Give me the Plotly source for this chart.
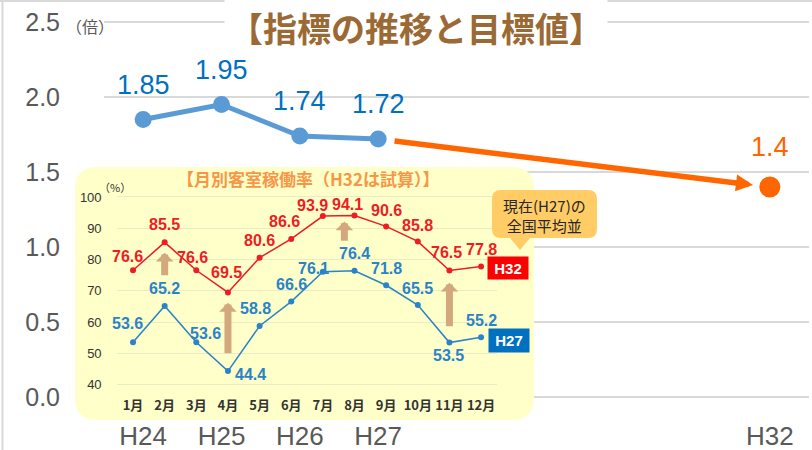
import plotly.graph_objects as go

# ---- data -------------------------------------------------------------
years = ["H24", "H25", "H26", "H27", "H32"]
year_pos = [0, 1, 2, 3, 8]
ratio_actual = [1.85, 1.95, 1.74, 1.72]      # H24..H27
ratio_target = 1.4                           # H32 target
y_ticks = [0.0, 0.5, 1.0, 1.5, 2.0, 2.5]

months = ["1月", "2月", "3月", "4月", "5月", "6月",
          "7月", "8月", "9月", "10月", "11月", "12月"]
occ_h32 = [76.6, 85.5, 76.6, 69.5, 80.6, 86.6, 93.9, 94.1, 90.6, 85.8, 76.5, 77.8]
occ_h27 = [53.6, 65.2, 53.6, 44.4, 58.8, 66.6, 76.1, 76.4, 71.8, 65.5, 53.5, 55.2]
occ_ticks = [40, 50, 60, 70, 80, 90, 100]

# ---- styling ----------------------------------------------------------
W, H = 812, 450
NUM = "Liberation Sans, Arial, sans-serif"
JP = "Noto Sans CJK JP, Noto Sans, sans-serif"
GRAY = "#595959"
BLUE_LINE = "#5B9BD5"
BLUE_TXT = "#0070C0"
ORANGE = "#FF6600"
RED_S = "#EE1C25"
BLUE_S = "#2A83C8"
TAN = "#D3A87F"

# label offsets (px) for the monthly inset labels
red_dx = [-6, 0, -4, -1, 0, -7, -10, -7, 0, 0, -3, 0]
red_dy = [14, 18, 13, 20, 17, 17, 11, 11, 16, 16, 18, 17]
blue_dx = [-6, 0, 9, 23, -4, 0, -9, 0, 0, 0, -1, 0]
blue_dy = [19, 17, 9, -3, 17, 17, 3, 17, 17, 17, -13, 17]


def px(x):
    return x / W


def py(y):
    return 1 - y / H


def pt(x, y):
    return f"{px(x):.5f},{py(y):.5f}"


month_pos = list(range(1, len(months) + 1))

fig = go.Figure()

# main indicator line
fig.add_trace(go.Scatter(
    x=year_pos[:4], y=ratio_actual, mode="lines+markers",
    line=dict(color=BLUE_LINE, width=5),
    marker=dict(size=17, color=BLUE_LINE),
    cliponaxis=False, hoverinfo="skip", showlegend=False))
fig.add_trace(go.Scatter(
    x=[year_pos[4]], y=[ratio_target], mode="markers",
    marker=dict(size=21, color=ORANGE),
    cliponaxis=False, hoverinfo="skip", showlegend=False))

# placeholder trace so the panel subplot exists
fig.add_trace(go.Scatter(x=[], y=[], xaxis="x2", yaxis="y2",
                         showlegend=False, hoverinfo="skip"))

# monthly occupancy inset
fig.add_trace(go.Scatter(
    x=month_pos, y=occ_h27, mode="lines+markers", xaxis="x3", yaxis="y3",
    line=dict(color=BLUE_S, width=1.5), marker=dict(size=6, color=BLUE_S),
    cliponaxis=False, hoverinfo="skip", showlegend=False))
fig.add_trace(go.Scatter(
    x=month_pos, y=occ_h32, mode="lines+markers", xaxis="x3", yaxis="y3",
    line=dict(color=RED_S, width=1.5), marker=dict(size=6, color=RED_S),
    cliponaxis=False, hoverinfo="skip", showlegend=False))

ann = []

# title
ann.append(dict(
    text="【指標の推移と目標値】", xref="paper", yref="paper",
    x=px(415.5), y=py(28), xanchor="center", yanchor="middle",
    showarrow=False, bgcolor="white", borderpad=4,
    font=dict(family=JP, size=34, color="#9B6A34", weight="bold")))
ann.append(dict(
    text="（倍）", xref="paper", yref="paper", x=px(90), y=py(26),
    xanchor="center", yanchor="middle", showarrow=False,
    font=dict(family=JP, size=16, color=GRAY)))

# value labels on the main chart
for xp, v in zip(year_pos[:4], ratio_actual):
    ann.append(dict(text=f"{v:.2f}", x=xp, y=v, xref="x", yref="y",
                    yshift=35, showarrow=False, xanchor="center", yanchor="middle",
                    font=dict(family=NUM, size=27, color=BLUE_TXT)))
ann.append(dict(text=f"{ratio_target}", x=year_pos[4], y=ratio_target,
                xref="x", yref="y", yshift=40, showarrow=False,
                xanchor="center", yanchor="middle",
                font=dict(family=NUM, size=27, color=ORANGE)))

# arrow from the latest actual value towards the target
x_a, y_a = year_pos[3], ratio_actual[3]
x_b, y_b = year_pos[4], ratio_target
t0, t1 = 0.038, 0.957
ann.append(dict(
    text="", xref="x", yref="y", axref="x", ayref="y",
    x=x_a + (x_b - x_a) * t1, y=y_a + (y_b - y_a) * t1,
    ax=x_a + (x_b - x_a) * t0, ay=y_a + (y_b - y_a) * t0,
    showarrow=True, arrowhead=2, arrowsize=0.62, arrowwidth=5.5,
    arrowcolor=ORANGE))

# inset title and unit
ann.append(dict(
    text="【月別客室稼働率（H32は試算）】", xref="paper", yref="paper",
    x=px(308), y=py(178), xanchor="center", yanchor="middle", showarrow=False,
    font=dict(family=JP, size=17, color="#F79646", weight="bold")))
ann.append(dict(
    text="（%）", xref="paper", yref="paper", x=px(115), y=py(187),
    xanchor="center", yanchor="middle", showarrow=False,
    font=dict(family=JP, size=11, color="#333333")))

# inset value labels
for m, v, dx, dy in zip(month_pos, occ_h32, red_dx, red_dy):
    ann.append(dict(text=f"{v:.1f}", x=m, y=v, xref="x3", yref="y3",
                    xshift=dx, yshift=dy, showarrow=False,
                    xanchor="center", yanchor="middle",
                    font=dict(family=NUM, size=16, color=RED_S, weight="bold")))
for m, v, dx, dy in zip(month_pos, occ_h27, blue_dx, blue_dy):
    ann.append(dict(text=f"{v:.1f}", x=m, y=v, xref="x3", yref="y3",
                    xshift=dx, yshift=dy, showarrow=False,
                    xanchor="center", yanchor="middle",
                    font=dict(family=NUM, size=16, color=BLUE_S, weight="bold")))

# upward improvement arrows (month position, tail, head)
tan_arrows = [(2, 74.5, 82.2), (4, 49.6, 66.2), (7.68, 85.5, 92.2), (11, 58.2, 72.6)]
for m, lo, hi in tan_arrows:
    ann.append(dict(text="", xref="x3", yref="y3", axref="x3", ayref="y3",
                    x=m, y=hi, ax=m, ay=lo, showarrow=True,
                    arrowhead=1, arrowsize=0.42, arrowwidth=7, arrowcolor=TAN))

# series tags
ann.append(dict(text="<b>H32</b>", xref="paper", yref="paper",
                x=px(507.5), y=py(268), xanchor="center", yanchor="middle",
                showarrow=False, bgcolor="#FF0000", width=38, height=20,
                font=dict(family=NUM, size=15, color="white")))
ann.append(dict(text="<b>H27</b>", xref="paper", yref="paper",
                x=px(508.5), y=py(340.5), xanchor="center", yanchor="middle",
                showarrow=False, bgcolor="#0070C0", width=38, height=21,
                font=dict(family=NUM, size=15, color="white")))

# callout text
ann.append(dict(text="現在(H27)の<br>全国平均並", xref="paper", yref="paper",
                x=px(544.5), y=py(215), xanchor="center", yanchor="middle",
                showarrow=False,
                font=dict(family=JP, size=15, color="#262626")))

# ---- shapes -----------------------------------------------------------
# rounded yellow panel behind the inset (panel axes run 0..1)
pw, ph, r = 459.0, 253.0, 22.0
rx, ry = r / pw, r / ph
panel = (f"M {rx},0 L {1 - rx},0 Q 1,0 1,{ry} L 1,{1 - ry} Q 1,1 {1 - rx},1 "
         f"L {rx},1 Q 0,1 0,{1 - ry} L 0,{ry} Q 0,0 {rx},0 Z")

cr = 9
callout = (f"M {pt(492 + cr, 190)} L {pt(597 - cr, 190)} Q {pt(597, 190)} {pt(597, 190 + cr)} "
           f"L {pt(597, 238 - cr)} Q {pt(597, 238)} {pt(597 - cr, 238)} "
           f"L {pt(530, 238)} L {pt(520, 250)} L {pt(510, 238)} "
           f"L {pt(492 + cr, 238)} Q {pt(492, 238)} {pt(492, 238 - cr)} "
           f"L {pt(492, 190 + cr)} Q {pt(492, 190)} {pt(492 + cr, 190)} Z")

shapes = [
    dict(type="path", xref="x2", yref="y2", path=panel, layer="below",
         fillcolor="#FFFFC9", line=dict(width=0)),
    dict(type="path", xref="paper", yref="paper", path=callout, layer="above",
         fillcolor="#FFCC66", line=dict(width=0)),
    dict(type="line", xref="paper", yref="paper", x0=px(2.5), x1=px(2.5), y0=0, y1=1,
         layer="above", line=dict(color="#D9D9D9", width=2)),
    dict(type="line", xref="paper", yref="paper", x0=0, x1=1, y0=py(1), y1=py(1),
         layer="above", line=dict(color="#D9D9D9", width=2)),
]

fig.update_layout(
    width=W, height=H, margin=dict(l=0, r=0, t=0, b=0, autoexpand=False),
    paper_bgcolor="white", plot_bgcolor="rgba(0,0,0,0)",
    showlegend=False, annotations=ann, shapes=shapes,
    xaxis=dict(domain=[px(104), px(809)], range=[-0.5, 8.5],
               tickmode="array", tickvals=year_pos, ticktext=years,
               showgrid=False, zeroline=False, showline=False, automargin=False,
               ticks="",
               tickfont=dict(family=NUM, size=26, color=GRAY), anchor="y"),
    yaxis=dict(domain=[py(418), py(7)], range=[-0.14, 2.6],
               tickmode="array", tickvals=y_ticks, tickformat=".1f",
               showgrid=True, gridcolor="#D9D9D9", gridwidth=1.5,
               zeroline=False, showline=False, automargin=False,
               ticks="outside", ticklen=38, tickcolor="rgba(0,0,0,0)",
               tickfont=dict(family=NUM, size=25, color=GRAY), anchor="x"),
    xaxis2=dict(domain=[px(75), px(534)], range=[0, 1], visible=False,
                automargin=False, anchor="y2"),
    yaxis2=dict(domain=[py(420), py(167)], range=[0, 1], visible=False,
                automargin=False, anchor="x2"),
    xaxis3=dict(domain=[px(117.2), px(496.9)], range=[0.5, 12.5],
                tickmode="array", tickvals=month_pos, ticktext=months,
                showgrid=False, zeroline=False, showline=False, automargin=False,
                ticks="",
                tickfont=dict(family=JP, size=13, color="#333333", weight="bold"),
                anchor="y3"),
    yaxis3=dict(domain=[py(395.5), py(190.7)], range=[36.6, 102],
                tickmode="array", tickvals=occ_ticks,
                showgrid=True, gridcolor="#ECEAC4", gridwidth=1.2,
                zeroline=False, showline=False, automargin=False,
                ticks="outside", ticklen=12, tickcolor="rgba(0,0,0,0)",
                tickfont=dict(family=NUM, size=13, color="#333333"), anchor="x3"),
)

fig.write_html("out.html")
